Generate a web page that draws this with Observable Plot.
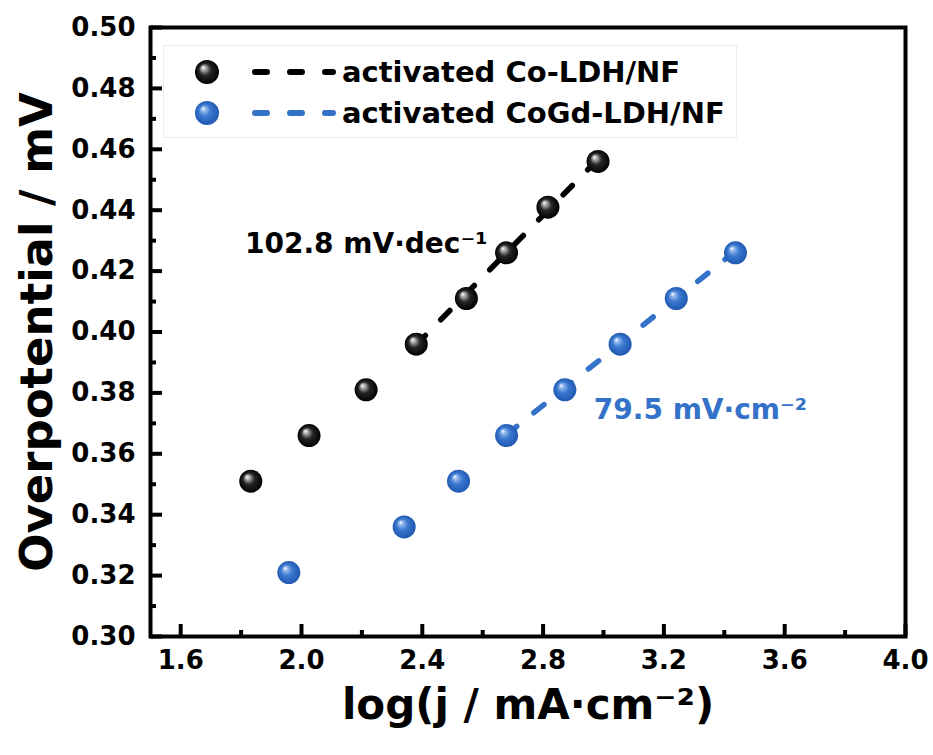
<!DOCTYPE html>
<html><head><meta charset="utf-8">
<script src="https://cdn.jsdelivr.net/npm/d3@7"></script>
<script src="https://cdn.jsdelivr.net/npm/@observablehq/plot@0.6"></script>
<style>
body{margin:0;background:#fff;}
#wrap{position:relative;width:933px;height:755px;}
#legend{position:absolute;left:163px;top:45px;}
</style></head><body><div id="wrap"></div>
<script>
// Series data
const coX = [1.832, 2.025, 2.214, 2.380, 2.546, 2.679, 2.816, 2.982];
const coY = [0.351, 0.366, 0.381, 0.396, 0.411, 0.426, 0.441, 0.456];
const gdX = [1.958, 2.340, 2.520, 2.679, 2.872, 3.055, 3.241, 3.437];
const gdY = [0.321, 0.336, 0.351, 0.366, 0.381, 0.396, 0.411, 0.426];
// Tafel fit line end points
const coFitX = [2.380, 3.010];
const coFitY = [0.3958, 0.4596];
const gdFitX = [2.679, 3.460];
const gdFitY = [0.3663, 0.4284];
// Labels
const seriesNames = ["activated Co-LDH/NF", "activated CoGd-LDH/NF"];
const annTexts = ["102.8 mV·dec⁻¹", "79.5 mV·cm⁻²"];
const annX = [1.813, 2.968];
const annY = [0.4290, 0.3745];
const xMajor = [1.6, 2.0, 2.4, 2.8, 3.2, 3.6, 4.0];
const xMinor = [1.8, 2.2, 2.6, 3.0, 3.4, 3.8];
const yMajor = [0.30, 0.32, 0.34, 0.36, 0.38, 0.40, 0.42, 0.44, 0.46, 0.48, 0.50];
const yMinor = [0.31, 0.33, 0.35, 0.37, 0.39, 0.41, 0.43, 0.45, 0.47, 0.49];
const xTitle = "log(j / mA·cm⁻²)";
const yTitle = "Overpotential / mV";

const BLUE = "#3472c9";
const toRows = (xs, ys) => xs.map((x, i) => ({x, y: ys[i]}));
const coData = toRows(coX, coY), gdData = toRows(gdX, gdY);
const coFit = toRows(coFitX, coFitY), gdFit = toRows(gdFitX, gdFitY);
const ann = annTexts.map((t, i) => ({t, x: annX[i], y: annY[i], c: i ? BLUE : "#000"}));

const FONT = "DejaVu Sans";
const svg = Plot.plot({
  width: 933, height: 755,
  marginLeft: 150, marginRight: 28, marginTop: 27, marginBottom: 119,
  x: {domain: [1.5, 4.0], label: null},
  y: {domain: [0.30, 0.50], label: null},
  style: {fontFamily: FONT, fontWeight: "bold", color: "#000", background: "#fff", overflow: "visible"},
  marks: [
    Plot.axisX(xMajor, {tickSize: 0, tickPadding: 14, fontSize: 26, fontWeight: "bold", tickFormat: d => d.toFixed(1), label: null}),
    Plot.axisX(xMajor, {tickSize: -12, strokeWidth: 4, tickFormat: () => "", label: null}),
    Plot.axisX(xMinor, {tickSize: -6, strokeWidth: 4, tickFormat: () => "", label: null}),
    Plot.axisY(yMajor, {tickSize: 0, tickPadding: 15, fontSize: 26, fontWeight: "bold", tickFormat: d => d.toFixed(2), label: null}),
    Plot.axisY(yMajor, {tickSize: -12, strokeWidth: 4, tickFormat: () => "", label: null}),
    Plot.axisY(yMinor, {tickSize: -6, strokeWidth: 4, tickFormat: () => "", label: null}),
    Plot.frame({stroke: "#000", strokeWidth: 4}),
    Plot.line(coFit, {x: "x", y: "y", stroke: "#000", strokeWidth: 5.5, strokeDasharray: "13,22", strokeLinecap: "round"}),
    Plot.line(gdFit, {x: "x", y: "y", stroke: BLUE, strokeWidth: 5.5, strokeDasharray: "13,22", strokeLinecap: "round"}),
    Plot.dot(coData, {x: "x", y: "y", r: 11.5, fill: "url(#gk)", stroke: null}),
    Plot.dot(gdData, {x: "x", y: "y", r: 11.5, fill: "url(#gb)", stroke: null}),
    Plot.text(ann, {x: "x", y: "y", text: "t", fill: "c", textAnchor: "start", fontSize: 28, fontWeight: "bold"}),
    Plot.text([xTitle], {text: d => d, frameAnchor: "bottom", dy: 82, textAnchor: "middle", fontSize: 42, fontWeight: "bold"}),
    Plot.text([yTitle], {text: d => d, frameAnchor: "left", dx: -113, rotate: -90, textAnchor: "middle", fontSize: 45, fontWeight: "bold"})
  ]
});

const gradDefs = `
<radialGradient id="gk" cx="0.5" cy="0.5" r="0.5" fx="0.33" fy="0.3">
  <stop offset="0" stop-color="#ffffff"/><stop offset="0.18" stop-color="#b0b0b0"/>
  <stop offset="0.5" stop-color="#262626"/><stop offset="1" stop-color="#000"/></radialGradient>
<radialGradient id="gb" cx="0.5" cy="0.5" r="0.5" fx="0.33" fy="0.3">
  <stop offset="0" stop-color="#ffffff"/><stop offset="0.2" stop-color="#8db3ea"/>
  <stop offset="0.5" stop-color="#3a78d0"/><stop offset="1" stop-color="#2058b0"/></radialGradient>`;
d3.select(svg).insert("defs", ":first-child").html(gradDefs);

const wrap = document.getElementById("wrap");
wrap.appendChild(svg);

// legend inside the frame
const lg = d3.select(wrap).append("svg").attr("id", "legend").attr("width", 574).attr("height", 93)
  .style("font-family", FONT).style("font-weight", "bold");
lg.append("rect").attr("x", 0.5).attr("y", 0.5).attr("width", 573).attr("height", 92)
  .attr("fill", "#fff").attr("stroke", "#ececec");
const lgColors = ["#000", BLUE], lgGrad = ["url(#gk)", "url(#gb)"];
seriesNames.forEach((name, i) => {
  const cy = 27 + i * 41;
  lg.append("circle").attr("cx", 44).attr("cy", cy).attr("r", 12).attr("fill", lgGrad[i]);
  lg.append("line").attr("x1", 92).attr("x2", 170).attr("y1", cy).attr("y2", cy)
    .attr("stroke", lgColors[i]).attr("stroke-width", 6).attr("stroke-dasharray", "12,23").attr("stroke-linecap", "round");
  lg.append("text").attr("x", 179).attr("y", cy).attr("dy", "0.36em").attr("font-size", 29).attr("fill", "#000").text(name);
});
</script></body></html>
